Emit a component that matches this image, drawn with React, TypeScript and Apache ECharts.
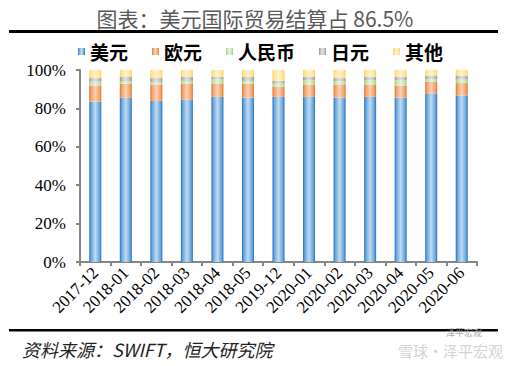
import React, { useEffect, useRef } from "react";
import * as echarts from "echarts";

const categories = ["2017-12", "2018-01", "2018-02", "2018-03", "2018-04", "2018-05", "2019-12", "2020-01", "2020-02", "2020-03", "2020-04", "2020-05", "2020-06"];
const usd = [83.5, 85.6, 83.9, 84.6, 86.0, 85.6, 86.0, 86.0, 85.6, 86.0, 85.6, 87.7, 86.7];
const eur = [8.4, 7.3, 8.5, 8.3, 6.9, 7.3, 5.2, 6.2, 6.6, 6.2, 6.3, 6.2, 6.5];
const rmb = [2.0, 1.4, 1.4, 1.4, 2.1, 1.4, 1.7, 2.6, 1.9, 2.6, 2.9, 1.4, 1.8];
const jpy = [1.9, 2.1, 2.0, 2.1, 1.4, 2.1, 1.4, 1.6, 1.7, 1.6, 1.6, 1.8, 2.1];
const other = [4.2, 3.6, 4.2, 3.6, 3.6, 3.6, 5.7, 3.6, 4.2, 3.6, 3.6, 2.9, 2.9];
const yTicks = [0, 20, 40, 60, 80, 100];

const seriesNames = ["美元", "欧元", "人民币", "日元", "其他"];
const seriesData = [usd, eur, rmb, jpy, other];
const palette: [string, string, string][] = [
  ["#1d6fc0", "#6aa5dc", "#c2dbf1"],
  ["#e2701f", "#f2a26c", "#fad0b4"],
  ["#96c979", "#c3e2ad", "#e6f3dc"],
  ["#8c8c8c", "#bdbdbd", "#e0e0e0"],
  ["#fdd05a", "#ffe398", "#fff2c8"],
];

function grad(edge: string, mid: string, light: string) {
  return new echarts.graphic.LinearGradient(0, 0, 1, 0, [
    { offset: 0, color: edge },
    { offset: 0.15, color: mid },
    { offset: 0.5, color: light },
    { offset: 0.85, color: mid },
    { offset: 1, color: edge },
  ]);
}

const serif = "Liberation Serif, Times New Roman, DejaVu Serif, serif";
const cjk = "Noto Sans CJK SC, sans-serif";

export default function App() {
  const ref = useRef<HTMLDivElement>(null);
  useEffect(() => {
    if (!ref.current) return;
    const chart = echarts.init(ref.current, undefined, { renderer: "svg" });
    chart.setOption({
      animation: false,
      backgroundColor: "#ffffff",
      title: {
        text: "图表：美元国际贸易结算占 86.5%",
        left: "center",
        top: 2,
        textStyle: { fontFamily: cjk, fontSize: 21, fontWeight: "normal", color: "#595959" },
      },
      legend: {
        top: 37,
        left: 73,
        itemWidth: 7,
        itemHeight: 7,
        itemGap: 24,
        icon: "rect",
        textStyle: { fontFamily: cjk, fontSize: 19, fontWeight: "bold", color: "#000" },
        data: seriesNames,
      },
      grid: { left: 80, right: 33, top: 70, bottom: 104 },
      xAxis: {
        type: "category",
        data: categories,
        axisLine: { lineStyle: { color: "#868686", width: 2 } },
        axisTick: { show: true, length: 4, lineStyle: { color: "#868686", width: 2 } },
        axisLabel: { rotate: 45, fontFamily: serif, fontSize: 17, color: "#000", margin: 8, interval: 0 },
      },
      yAxis: {
        type: "value",
        min: 0,
        max: 100,
        interval: 20,
        axisLine: { show: true, lineStyle: { color: "#868686", width: 2 } },
        axisTick: { show: true, length: 4, lineStyle: { color: "#868686", width: 2 } },
        splitLine: { show: false },
        axisLabel: {
          fontFamily: serif,
          fontSize: 17,
          color: "#000",
          margin: 14,
          formatter: (v: number) => (yTicks.includes(v) ? v + "%" : ""),
        },
      },
      series: seriesNames.map((name, i) => ({
        name,
        type: "bar",
        stack: "total",
        barWidth: 12,
        data: seriesData[i],
        itemStyle: { color: grad(palette[i][0], palette[i][1], palette[i][2]) },
      })),
      graphic: [
        { type: "rect", shape: { x: 9, y: 30, width: 489, height: 3 }, style: { fill: "#000" } },
        { type: "rect", shape: { x: 9, y: 329, width: 489, height: 2.5 }, style: { fill: "#000" } },
        {
          type: "text",
          x: 22,
          y: 349,
          style: {
            text: "资料来源：SWIFT，恒大研究院",
            fontFamily: cjk,
            fontSize: 18,
            fontStyle: "italic",
            fill: "#222",
            verticalAlign: "middle",
          },
        },
        {
          type: "text",
          x: 446,
          y: 332,
          style: { text: "泽平宏观", fontFamily: cjk, fontSize: 9, fill: "#aaaaaa", verticalAlign: "middle" },
        },
        {
          type: "text",
          x: 398,
          y: 350,
          style: { text: "雪球·泽平宏观", fontFamily: cjk, fontSize: 15, fill: "#d4d4d4", verticalAlign: "middle" },
        },
      ],
    });
    return () => chart.dispose();
  }, []);
  return <div ref={ref} style={{ width: 510, height: 366, position: "absolute", left: 0, top: 0 }} />;
}
